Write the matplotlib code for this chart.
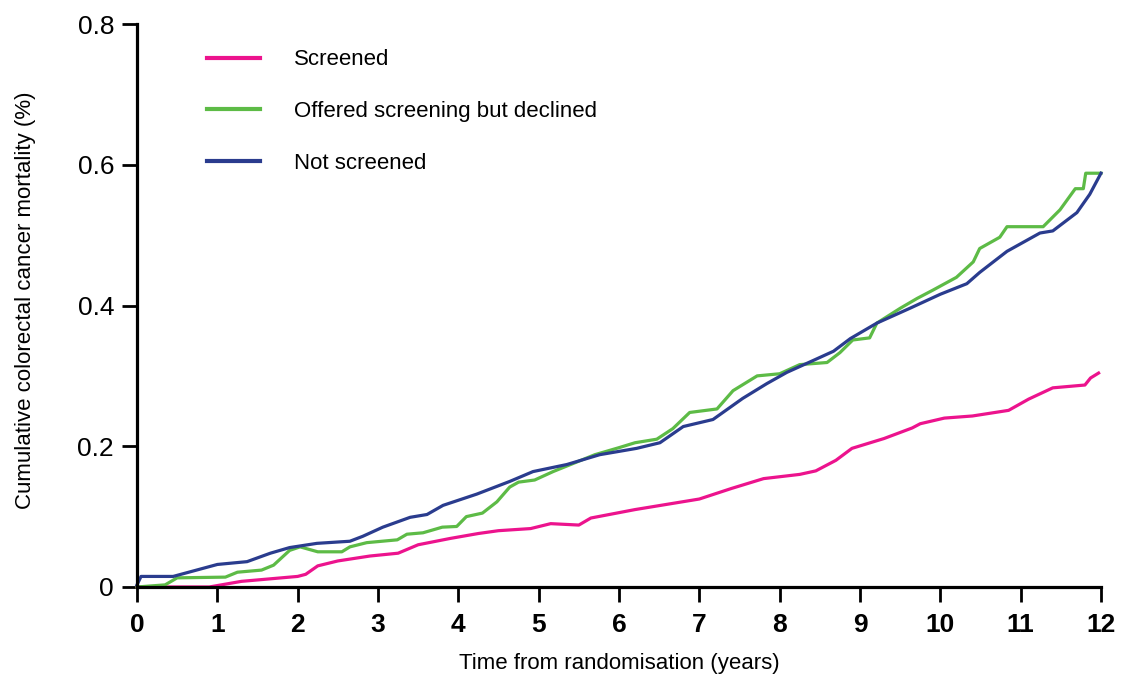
import matplotlib
matplotlib.use("Agg")
import matplotlib.pyplot as plt

plt.rcParams["font.family"] = ["Liberation Sans", "DejaVu Sans"]

screened_x = [0, 0.9, 1.0, 1.3, 1.6, 2.0, 2.1, 2.25, 2.5, 2.9, 3.25, 3.5, 3.9, 4.25, 4.5, 4.9,
              5.15, 5.5, 5.65, 6.2, 7.0, 7.4, 7.8, 8.25, 8.45, 8.7, 8.9, 9.3, 9.65, 9.75, 10.05,
              10.4, 10.85, 11.1, 11.4, 11.8, 11.87, 11.97]
screened_y = [0, 0, 0.002, 0.008, 0.011, 0.015, 0.018, 0.030, 0.037, 0.044, 0.048, 0.060, 0.069,
              0.076, 0.080, 0.083, 0.090, 0.088, 0.098, 0.110, 0.125, 0.140, 0.154, 0.160, 0.165,
              0.180, 0.197, 0.211, 0.226, 0.232, 0.240, 0.243, 0.251, 0.267, 0.283, 0.287, 0.297, 0.304]

declined_x = [0, 0.35, 0.5, 1.1, 1.25, 1.55, 1.7, 1.9, 2.03, 2.25, 2.55, 2.65, 2.86, 3.24, 3.36,
              3.56, 3.8, 3.98, 4.1, 4.3, 4.48, 4.64, 4.75, 4.95, 5.18, 5.7, 6.0, 6.2, 6.47, 6.67,
              6.88, 7.22, 7.42, 7.72, 8.0, 8.25, 8.59, 8.75, 8.91, 9.12, 9.21, 9.5, 9.71, 9.91,
              10.2, 10.41, 10.49, 10.74, 10.83, 11.28, 11.49, 11.68, 11.78, 11.81, 12.0]
declined_y = [0, 0.003, 0.013, 0.014, 0.021, 0.024, 0.031, 0.052, 0.057, 0.050, 0.050, 0.057,
              0.063, 0.067, 0.075, 0.077, 0.085, 0.086, 0.100, 0.105, 0.121, 0.142, 0.149, 0.152,
              0.164, 0.188, 0.198, 0.205, 0.210, 0.225, 0.248, 0.253, 0.279, 0.300, 0.303, 0.316,
              0.319, 0.333, 0.351, 0.354, 0.375, 0.396, 0.410, 0.422, 0.440, 0.462, 0.481, 0.497,
              0.512, 0.512, 0.536, 0.566, 0.566, 0.588, 0.588]

notscr_x = [0, 0.05, 0.45, 1.0, 1.37, 1.66, 1.9, 2.24, 2.65, 2.81, 3.06, 3.4, 3.61, 3.81, 4.23,
            4.64, 4.93, 5.35, 5.76, 6.22, 6.51, 6.8, 7.17, 7.54, 7.84, 8.09, 8.42, 8.67, 8.88,
            9.21, 9.62, 10.0, 10.33, 10.49, 10.83, 11.24, 11.4, 11.7, 11.86, 12.0]
notscr_y = [0.003, 0.015, 0.015, 0.032, 0.036, 0.048, 0.056, 0.062, 0.065, 0.072, 0.085, 0.099,
            0.103, 0.116, 0.132, 0.150, 0.164, 0.174, 0.188, 0.197, 0.205, 0.228, 0.238, 0.268,
            0.289, 0.305, 0.322, 0.335, 0.353, 0.375, 0.396, 0.416, 0.431, 0.447, 0.477, 0.503,
            0.506, 0.532, 0.558, 0.588]

series_labels = ["Screened", "Offered screening but declined", "Not screened"]
colors = ["#EC138D", "#5DBB46", "#2A3C8E"]
x_ticks = list(range(0, 13))
y_ticks = [0, 0.2, 0.4, 0.6, 0.8]
y_ticklabels = ["0", "0.2", "0.4", "0.6", "0.8"]

fig = plt.figure(figsize=(11.23, 6.75), dpi=100)
ax = fig.add_axes([0.122, 0.1304, 0.8584, 0.834])

for xs, ys, lab, c in zip([screened_x, declined_x, notscr_x],
                          [screened_y, declined_y, notscr_y], series_labels, colors):
    ax.plot(xs, ys, color=c, lw=2.3, label=lab, clip_on=False, solid_joinstyle="round")

ax.set_xlim(0, 12)
ax.set_ylim(0, 0.8)
ax.set_xticks(x_ticks)
ax.set_yticks(y_ticks)
ax.set_yticklabels(y_ticklabels)
for s in ["top", "right"]:
    ax.spines[s].set_visible(False)
for s in ["left", "bottom"]:
    ax.spines[s].set_linewidth(2.3)
ax.tick_params(axis="both", direction="out", length=10.5, width=2.0)
ax.tick_params(axis="y", labelsize=19, pad=6)
ax.tick_params(axis="x", labelsize=19, pad=8)
for t in ax.get_xticklabels():
    t.set_fontweight("bold")
ax.set_xlabel("Time from randomisation (years)", fontsize=16, labelpad=12)
ax.set_ylabel("Cumulative colorectal cancer mortality (%)", fontsize=16)
ax.yaxis.set_label_coords(-0.105, 0.51)

leg = ax.legend(loc="upper left", bbox_to_anchor=(0.0726, 0.955), frameon=False, fontsize=16,
                handlelength=2.4, handletextpad=1.5, labelspacing=1.38, borderpad=0,
                borderaxespad=0)
for h in leg.get_lines():
    h.set_linewidth(3)

fig.savefig("out.png", dpi=100)
